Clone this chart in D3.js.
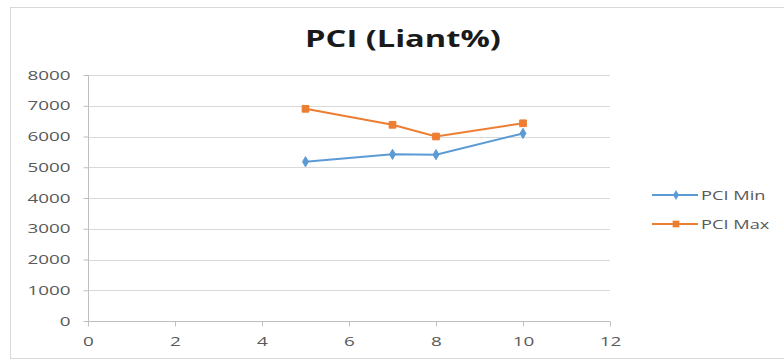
<!DOCTYPE html>
<html>
<head>
<meta charset="utf-8">
<script src="https://cdn.jsdelivr.net/npm/d3@7"></script>
<style>
  html, body { margin: 0; padding: 0; background: #fff; }
  svg { display: block; }
  text { font-family: "Open Sans", "DejaVu Sans", sans-serif; fill: #595959; }
</style>
</head>
<body>
<svg id="chart" width="784" height="360"></svg>
<script>
// PCI readings per liant percentage
const liant = [5, 7, 8, 10];
const pciMin = [5180, 5420, 5410, 6100];
const pciMax = [6900, 6380, 6000, 6430];
const xTicks = [0, 2, 4, 6, 8, 10, 12];
const yTicks = [0, 1000, 2000, 3000, 4000, 5000, 6000, 7000, 8000];
const seriesNames = ["PCI Min", "PCI Max"];
const seriesColors = ["#5b9bd5", "#ed7d31"];

const svg = d3.select("#chart");

// widen glyphs horizontally to a wide, Calibri-like look
function widen(sel, factor) {
  sel.each(function () {
    const w = this.getComputedTextLength();
    d3.select(this)
      .attr("textLength", (w * factor).toFixed(1))
      .attr("lengthAdjust", "spacingAndGlyphs");
  });
}

// chart frame
svg.append("rect")
  .attr("x", 10.5).attr("y", 7.5)
  .attr("width", 790).attr("height", 351)
  .attr("fill", "#fff").attr("stroke", "#d9d9d9");

const x = d3.scaleLinear().domain([0, 12]).range([88, 610]);
const y = d3.scaleLinear().domain([0, 8000]).range([321, 75]);

// horizontal gridlines
svg.append("g").selectAll("line").data(yTicks.filter(d => d > 0)).join("line")
  .attr("x1", x(0)).attr("x2", x(12))
  .attr("y1", d => Math.round(y(d)) + 0.5).attr("y2", d => Math.round(y(d)) + 0.5)
  .attr("stroke", "#d9d9d9").attr("stroke-width", 1);

// axes
const yAxis = d3.axisLeft(y).tickValues(yTicks).tickFormat(d3.format("d")).tickSize(5).tickPadding(13);
const xAxis = d3.axisBottom(x).tickValues(xTicks).tickFormat(d3.format("d")).tickSize(5).tickPadding(10);

const gy = svg.append("g").attr("transform", `translate(${x(0) + 0.5},0)`).call(yAxis);
const gx = svg.append("g").attr("transform", `translate(0,${Math.round(y(0)) + 0.5})`).call(xAxis);

[gx, gy].forEach(g => {
  g.select(".domain").attr("stroke", "#bfbfbf");
  g.selectAll(".tick line").attr("stroke", "#bfbfbf");
  g.selectAll(".tick text")
    .attr("fill", "#595959")
    .style("font-family", "'Open Sans', sans-serif")
    .style("font-size", "13px");
  widen(g.selectAll(".tick text"), 1.45);
});
gy.select(".domain").attr("d", `M0,${y(0)}V${y(8000)}`);
gx.select(".domain").attr("d", `M${x(0)},0H${x(12)}`);

// title
const title = svg.append("text")
  .attr("x", 403).attr("y", 47)
  .attr("text-anchor", "middle")
  .style("font-family", "'Open Sans', sans-serif")
  .style("font-weight", "bold")
  .style("font-size", "24px")
  .style("fill", "#1a1a1a")
  .text("PCI (Liant%)");
widen(title, 1.36);

const series = [pciMin, pciMax];
const symbols = [d3.symbolDiamond, d3.symbolSquare];
const symSizes = [30, 45];
const line = d3.line().x(d => x(d[0])).y(d => y(d[1]));

series.forEach((vals, i) => {
  const pts = liant.map((l, j) => [l, vals[j]]);
  svg.append("path")
    .datum(pts)
    .attr("d", line)
    .attr("fill", "none")
    .attr("stroke", seriesColors[i])
    .attr("stroke-width", 2);
  svg.append("g").selectAll("path").data(pts).join("path")
    .attr("transform", d => `translate(${x(d[0])},${y(d[1])})`)
    .attr("d", d3.symbol().type(symbols[i]).size(symSizes[i]))
    .attr("fill", seriesColors[i])
    .attr("stroke", seriesColors[i])
    .attr("stroke-width", 1);
});

// legend
const legend = svg.append("g");
seriesNames.forEach((name, i) => {
  const ly = 195 + i * 29;
  const g = legend.append("g");
  g.append("line")
    .attr("x1", 652).attr("x2", 698)
    .attr("y1", ly).attr("y2", ly)
    .attr("stroke", seriesColors[i]).attr("stroke-width", 2);
  g.append("path")
    .attr("transform", `translate(676,${ly})`)
    .attr("d", d3.symbol().type(symbols[i]).size(symSizes[i]))
    .attr("fill", seriesColors[i]);
  const t = g.append("text")
    .attr("x", 701).attr("y", ly + 4.5)
    .style("font-size", "13px")
    .text(name);
  widen(t, 1.4);
});
</script>
</body>
</html>
